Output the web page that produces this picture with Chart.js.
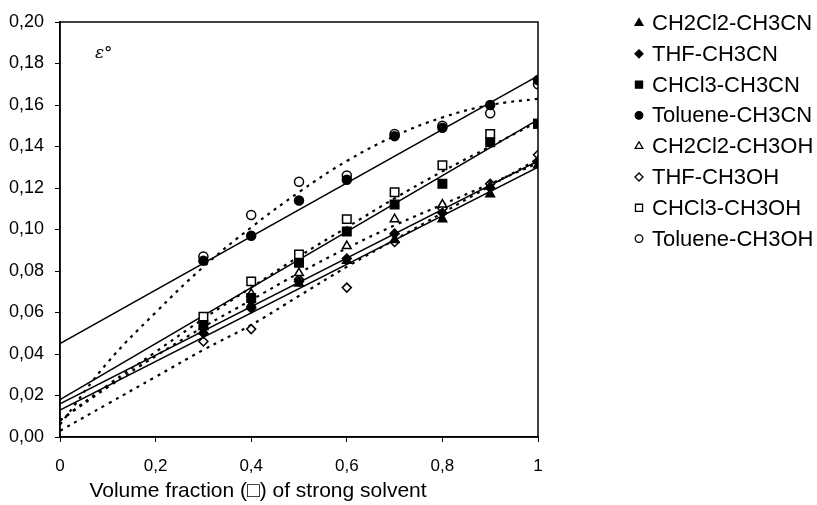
<!DOCTYPE html>
<html>
<head>
<meta charset="utf-8">
<script src="https://cdn.jsdelivr.net/npm/chart.js@4/dist/chart.umd.min.js"></script>
<style>
  html, body { margin: 0; padding: 0; background: #fff; }
  #wrap { width: 817px; height: 505px; }
</style>
</head>
<body>
<div id="wrap"><canvas id="chart" width="817" height="505"></canvas></div>
<script>
// measured points (volume fraction of strong solvent)
const xPoints = [0.3, 0.4, 0.5, 0.6, 0.7, 0.8, 0.9, 1.0];
const ch2cl2Ch3cn = [0.051, 0.064, 0.074, 0.085, 0.095, 0.105, 0.117, 0.131];
const thfCh3cn = [0.050, 0.062, 0.075, 0.086, 0.098, 0.108, 0.120, 0.133];
const chcl3Ch3cn = [0.054, 0.067, 0.084, 0.099, 0.112, 0.122, 0.142, 0.151];
const tolueneCh3cn = [0.085, 0.097, 0.114, 0.124, 0.145, 0.149, 0.160, 0.172];
const ch2cl2Ch3oh = [0.053, 0.069, 0.079, 0.092, 0.105, 0.112, 0.121, 0.133];
const thfCh3oh = [0.046, 0.052, 0.076, 0.072, 0.094, 0.110, 0.122, 0.136];
const chcl3Ch3oh = [0.058, 0.075, 0.088, 0.105, 0.118, 0.131, 0.146, 0.151];
const tolueneCh3oh = [0.087, 0.107, 0.123, 0.126, 0.146, 0.150, 0.156, 0.170];

// straight trend lines (solid), read at x = 0 and x = 1
const fitX = [0, 1];
const tolueneCh3cnFit = [0.045, 0.174];
const chcl3Ch3cnFit = [0.018, 0.153];
const thfCh3cnFit = [0.016, 0.133];
const ch2cl2Ch3cnFit = [0.013, 0.130];

// curved trend lines (dotted), every 0.1
const curveX = [0, 0.1, 0.2, 0.3, 0.4, 0.5, 0.6, 0.7, 0.8, 0.9, 1.0];
const tolueneCh3ohCurve = [0.006, 0.036, 0.060, 0.082, 0.101, 0.118, 0.133, 0.145, 0.154, 0.160, 0.163];
const chcl3Ch3ohCurve = [0.008, 0.025, 0.041, 0.057, 0.072, 0.087, 0.101, 0.115, 0.128, 0.140, 0.152];
const ch2cl2Ch3ohCurve = [0.008, 0.024, 0.039, 0.053, 0.066, 0.079, 0.091, 0.102, 0.112, 0.122, 0.132];
const thfCh3ohCurve = [0.003, 0.016, 0.029, 0.042, 0.054, 0.068, 0.082, 0.095, 0.108, 0.121, 0.134];

const yTicks = ['0,00', '0,02', '0,04', '0,06', '0,08', '0,10', '0,12', '0,14', '0,16', '0,18', '0,20'];
const xTicks = { 0: '0', 0.2: '0,2', 0.4: '0,4', 0.6: '0,6', 0.8: '0,8', 1: '1' };

const FONT = "'Liberation Sans', Arial, sans-serif";

function pts(xs, ys) {
  return xs.map((x, i) => ({ x: x, y: ys[i] }));
}

function markerSet(label, ys, style, filled, radius) {
  return {
    label: label,
    data: pts(xPoints, ys),
    showLine: false,
    pointStyle: style,
    pointRadius: radius,
    pointBackgroundColor: filled ? '#000' : '#fff',
    pointBorderColor: '#000',
    pointBorderWidth: 1.5,
    order: 0,
    isMarker: true
  };
}

function lineSet(xs, ys, dotted) {
  return {
    label: '',
    data: pts(xs, ys),
    showLine: true,
    borderColor: '#000',
    borderWidth: dotted ? 2.2 : 1.5,
    borderDash: dotted ? [3, 5] : [],
    tension: dotted ? 0.4 : 0,
    pointRadius: 0,
    order: 1
  };
}

const datasets = [
  markerSet('CH2Cl2-CH3CN', ch2cl2Ch3cn, 'triangle', true, 5),
  markerSet('THF-CH3CN', thfCh3cn, 'rectRot', true, 4.5),
  markerSet('CHCl3-CH3CN', chcl3Ch3cn, 'rect', true, 6),
  markerSet('Toluene-CH3CN', tolueneCh3cn, 'circle', true, 4.5),
  markerSet('CH2Cl2-CH3OH', ch2cl2Ch3oh, 'triangle', false, 5),
  markerSet('THF-CH3OH', thfCh3oh, 'rectRot', false, 4.5),
  markerSet('CHCl3-CH3OH', chcl3Ch3oh, 'rect', false, 6),
  markerSet('Toluene-CH3OH', tolueneCh3oh, 'circle', false, 4.5),
  lineSet(fitX, tolueneCh3cnFit, false),
  lineSet(fitX, chcl3Ch3cnFit, false),
  lineSet(fitX, thfCh3cnFit, false),
  lineSet(fitX, ch2cl2Ch3cnFit, false),
  lineSet(curveX, tolueneCh3ohCurve, true),
  lineSet(curveX, chcl3Ch3ohCurve, true),
  lineSet(curveX, ch2cl2Ch3ohCurve, true),
  lineSet(curveX, thfCh3ohCurve, true)
];

// legend marker sizes
const legendRadius = { triangle: 4.5, rectRot: 4, rect: 5, circle: 3.8 };

// frame, legend, axis title and the epsilon label
const extras = {
  id: 'extras',
  afterDraw(chart) {
    const ctx = chart.ctx;
    const a = chart.chartArea;
    ctx.save();
    ctx.strokeStyle = '#000';
    ctx.lineWidth = 1.5;
    ctx.strokeRect(a.left, a.top, a.right - a.left, a.bottom - a.top);

    ctx.fillStyle = '#000';
    ctx.font = 'italic 17px "DejaVu Serif", serif';
    ctx.textBaseline = 'alphabetic';
    ctx.textAlign = 'left';
    ctx.fillText('\u03b5\u00b0', 95, 58);

    ctx.font = '21px ' + FONT;
    ctx.textAlign = 'center';
    ctx.textBaseline = 'middle';
    ctx.fillText('Volume fraction (\u25a1) of strong solvent', 258, 491);

    ctx.textAlign = 'left';
    ctx.font = '22px ' + FONT;
    let y = 23;
    chart.data.datasets.forEach(ds => {
      if (!ds.isMarker) return;
      ctx.save();
      ctx.fillStyle = ds.pointBackgroundColor;
      ctx.strokeStyle = '#000';
      ctx.lineWidth = 1.3;
      Chart.helpers.drawPoint(ctx, {
        pointStyle: ds.pointStyle,
        radius: legendRadius[ds.pointStyle],
        rotation: 0,
        borderWidth: 1.3
      }, 639, y);
      ctx.restore();
      ctx.fillStyle = '#000';
      ctx.fillText(ds.label, 652, y + 1);
      y += 30.8;
    });
    ctx.restore();
  }
};

new Chart(document.getElementById('chart'), {
  type: 'scatter',
  data: { datasets: datasets },
  options: {
    responsive: false,
    animation: false,
    events: [],
    layout: { padding: { top: 22, right: 279, left: 0, bottom: 0 } },
    plugins: {
      legend: { display: false },
      tooltip: { enabled: false }
    },
    scales: {
      x: {
        type: 'linear',
        min: 0,
        max: 1,
        afterFit(scale) { scale.height = 68; },
        afterBuildTicks(scale) {
          scale.ticks = Object.keys(xTicks).map(v => ({ value: Number(v) }));
        },
        border: { color: '#000', width: 1.5 },
        grid: { drawOnChartArea: false, tickLength: 5, color: '#000', lineWidth: 1 },
        ticks: {
          color: '#000',
          padding: 14,
          maxRotation: 0,
          font: { family: FONT, size: 17 },
          callback: v => xTicks[Math.round(v * 10) / 10]
        }
      },
      y: {
        type: 'linear',
        min: 0,
        max: 0.2,
        afterFit(scale) { scale.width = 60; },
        border: { color: '#000', width: 1.5 },
        grid: { drawOnChartArea: false, tickLength: 5, color: '#000', lineWidth: 1 },
        ticks: {
          stepSize: 0.02,
          color: '#000',
          padding: 11,
          font: { family: FONT, size: 18 },
          callback: (v) => yTicks[Math.round(v / 0.02)]
        }
      }
    }
  },
  plugins: [extras]
});
</script>
</body>
</html>
